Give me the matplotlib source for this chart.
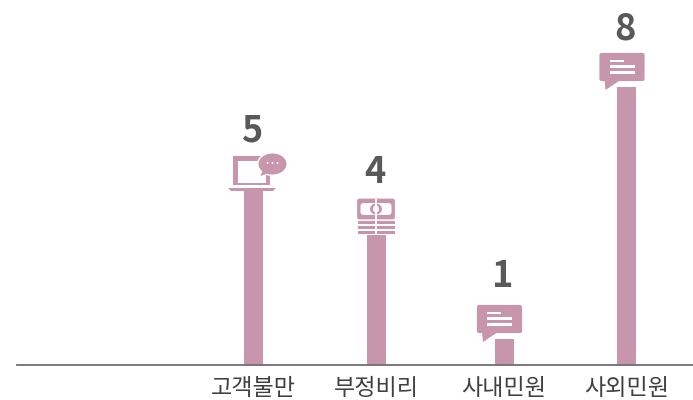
import matplotlib
matplotlib.use('Agg')
import matplotlib.pyplot as plt
from matplotlib.patches import Rectangle, Ellipse, Polygon, FancyBboxPatch, Circle
from matplotlib.transforms import Affine2D

plt.rcParams['font.family'] = ['Noto Sans CJK KR', 'DejaVu Sans']

categories = ['고객불만', '부정비리', '사내민원', '사외민원']
values = [5, 4, 1, 8]
bar_x = [253.5, 376, 504, 626.5]
label_gap = [43.5, 38.5, 38.5, 41.5]  # points between bar top and number
icon_top = [153, 199, 305, 53]  # icon top, pixels from top of image

BAR = '#c795ac'
GREY = '#595959'

fig = plt.figure(figsize=(6.93, 4.0), dpi=100)
ax = fig.add_axes([17 / 693, 35 / 400, 676 / 693, 365 / 400])
ax.set_xlim(17, 693)
ax.set_ylim(0, 365 / 34.75)

ax.bar(bar_x, values, width=19, color=BAR, zorder=2)

for x, v, gap in zip(bar_x, values, label_gap):
    ax.annotate(str(v), (x, v), xytext=(-1, gap), textcoords='offset points',
                ha='center', va='center', fontsize=26, fontweight='bold', color=GREY)

ax.set_xticks(bar_x)
ax.set_xticklabels(categories, fontsize=16.6, color='#404040')
ax.tick_params(axis='x', length=0, pad=8.6)
ax.set_yticks([])
for s in ['top', 'left', 'right']:
    ax.spines[s].set_visible(False)
ax.spines['bottom'].set_color('#6f6f6f')
ax.spines['bottom'].set_linewidth(1.3)

# icons are drawn in image pixels, y going down
px = Affine2D().scale(1, -1).translate(0, 400)


def add(p):
    p.set_transform(px)
    p.set_zorder(5)
    fig.add_artist(p)


def rect(x0, y0, x1, y1, color):
    add(Rectangle((x0, y0), x1 - x0, y1 - y0, fc=color, ec='none'))


def chat_icon(xc, top):
    x0 = xc - 27
    rect(xc - 12, top + 27, xc + 12, top + 34, 'white')
    add(FancyBboxPatch((x0 + 2, top + 2), 41, 24, boxstyle='round,pad=0,rounding_size=0',
                       fc=BAR, ec=BAR, lw=3, joinstyle='round'))
    add(Polygon([(x0 + 5, top + 27), (x0 + 21, top + 27), (x0 + 6, top + 37)], fc=BAR, ec='none'))
    rect(x0 + 10, top + 6.5, x0 + 24, top + 9, 'white')
    rect(x0 + 10, top + 12, x0 + 35, top + 14.5, 'white')
    rect(x0 + 10, top + 18, x0 + 35, top + 20.5, 'white')


def laptop_icon(xc, top):
    x0 = xc - 20.5
    rect(x0, top + 3, x0 + 37, top + 32, BAR)
    rect(x0 + 5, top + 8, x0 + 33, top + 30, 'white')
    add(Polygon([(x0 - 5, top + 35), (x0 + 43, top + 35), (x0 + 40, top + 38), (x0 - 2, top + 38)],
                fc=BAR, ec='none'))
    add(Ellipse((xc + 19, top + 11), 31, 24, fc='white', ec='none'))
    add(Polygon([(xc + 9, top + 15), (xc + 17, top + 20), (xc + 5, top + 24)], fc='white', ec='none'))
    add(Ellipse((xc + 19, top + 11), 28, 21, fc=BAR, ec='none'))
    add(Polygon([(xc + 10, top + 15), (xc + 16, top + 20), (xc + 7, top + 23)], fc=BAR, ec='none'))
    for dx in (-5, 0, 5):
        add(Circle((xc + 19 + dx, top + 10), 1, fc='white', ec='none'))


def money_icon(xc, top):
    x0 = xc - 18.5
    rect(x0, top, x0 + 37, top + 36, 'white')
    add(FancyBboxPatch((x0 + 1, top + 1), 35, 18, boxstyle='round,pad=0,rounding_size=1',
                       fc=BAR, ec=BAR, lw=2))
    add(FancyBboxPatch((x0 + 5, top + 6), 27, 8, boxstyle='round,pad=2,rounding_size=3',
                       fc='white', ec='none'))
    add(Ellipse((xc, top + 10), 12, 11, fc=BAR, ec='none'))
    add(Ellipse((xc, top + 10), 6, 7, fc='white', ec='none'))
    for dy in (22, 27, 32):
        rect(x0, top + dy, x0 + 37, top + dy + 3, BAR)
    rect(xc - 1, top, xc + 1, top + 35, 'white')


laptop_icon(bar_x[0], icon_top[0])
money_icon(bar_x[1], icon_top[1])
chat_icon(bar_x[2], icon_top[2])
chat_icon(bar_x[3], icon_top[3])

fig.savefig('out.png', dpi=100)
